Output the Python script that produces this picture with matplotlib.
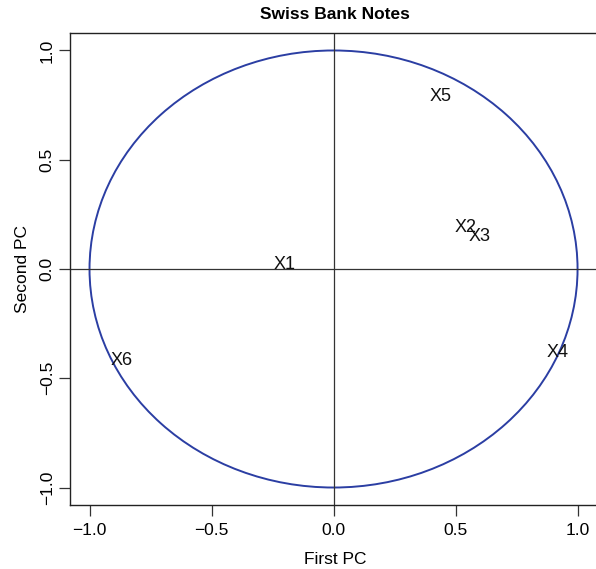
import numpy as np
import matplotlib.pyplot as plt
from matplotlib.patches import Circle

plt.rcParams['font.family'] = ['Liberation Sans', 'DejaVu Sans']

## correlations of the variables with the first two PCs
labels = ['X1', 'X2', 'X3', 'X4', 'X5', 'X6']
first_pc = [-0.20, 0.54, 0.60, 0.92, 0.44, -0.87]
second_pc = [0.02, 0.19, 0.15, -0.38, 0.79, -0.42]
ticks = [-1.0, -0.5, 0.0, 0.5, 1.0]

fig = plt.figure(figsize=(5.96, 5.69), dpi=100)
ax = fig.add_axes([70 / 596, 64 / 569, 530 / 596, 472 / 569])

ax.add_patch(Circle((0, 0), 1.0, fill=False, color='#2b3ea3', lw=1.4))
ax.axhline(0, color='#333333', lw=0.9)
ax.axvline(0, color='#333333', lw=0.9)

for lab, x, y in zip(labels, first_pc, second_pc):
    ax.text(x, y, lab, ha='center', va='center', fontsize=13, color='#111111')

ax.set_xlim(-1.08, 1.092)
ax.set_ylim(-1.08, 1.08)
ax.set_xticks(ticks)
ax.set_yticks(ticks)
ax.set_xticklabels([f'{t:.1f}'.replace('-', '\u2212') for t in ticks])
ax.set_yticklabels([f'{t:.1f}'.replace('-', '\u2212') for t in ticks],
                   rotation=90, va='center')
ax.tick_params(length=8, width=0.9, color='#333333', labelsize=12.5, pad=5)
ax.tick_params(axis='y', pad=3)
for s in ax.spines.values():
    s.set_color('#222222')
    s.set_linewidth(1.0)

ax.set_xlabel('First PC', fontsize=12.5, labelpad=10)
ax.set_ylabel('Second PC', fontsize=12.5, labelpad=7)
ax.set_title('Swiss Bank Notes', fontsize=12.5, fontweight='bold', pad=10)

fig.savefig('out.png', dpi=100)
